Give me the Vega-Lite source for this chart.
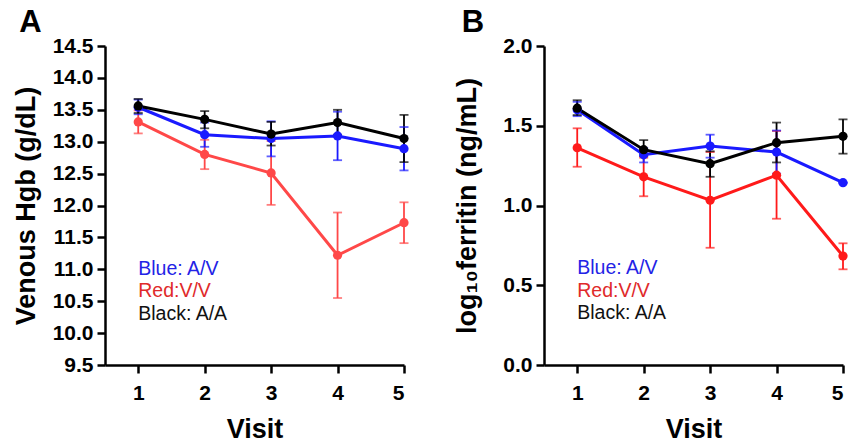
{
  "$schema": "https://vega.github.io/schema/vega-lite/v6.json",
  "background": "white",
  "padding": {"left": 12, "top": 7, "right": 2, "bottom": 2},
  "spacing": 43,
  "datasets": {
    "hgb": [
      {"group": "V/V", "visit": 1, "mean": 13.31, "lo": 13.13, "hi": 13.49},
      {"group": "V/V", "visit": 2, "mean": 12.80, "lo": 12.57, "hi": 13.03},
      {"group": "V/V", "visit": 3, "mean": 12.51, "lo": 12.01, "hi": 13.01},
      {"group": "V/V", "visit": 4, "mean": 11.22, "lo": 10.55, "hi": 11.89},
      {"group": "V/V", "visit": 5, "mean": 11.73, "lo": 11.41, "hi": 12.05},
      {"group": "A/V", "visit": 1, "mean": 13.54, "lo": 13.43, "hi": 13.66},
      {"group": "A/V", "visit": 2, "mean": 13.11, "lo": 12.92, "hi": 13.30},
      {"group": "A/V", "visit": 3, "mean": 13.05, "lo": 12.77, "hi": 13.32},
      {"group": "A/V", "visit": 4, "mean": 13.09, "lo": 12.71, "hi": 13.47},
      {"group": "A/V", "visit": 5, "mean": 12.89, "lo": 12.55, "hi": 13.23},
      {"group": "A/A", "visit": 1, "mean": 13.56, "lo": 13.45, "hi": 13.67},
      {"group": "A/A", "visit": 2, "mean": 13.35, "lo": 13.21, "hi": 13.48},
      {"group": "A/A", "visit": 3, "mean": 13.12, "lo": 12.94, "hi": 13.31},
      {"group": "A/A", "visit": 4, "mean": 13.30, "lo": 13.11, "hi": 13.50},
      {"group": "A/A", "visit": 5, "mean": 13.05, "lo": 12.68, "hi": 13.42}
    ],
    "ferritin": [
      {"group": "V/V", "visit": 1, "mean": 1.362, "lo": 1.243, "hi": 1.484},
      {"group": "V/V", "visit": 2, "mean": 1.18, "lo": 1.058, "hi": 1.30},
      {"group": "V/V", "visit": 3, "mean": 1.033, "lo": 0.735, "hi": 1.335},
      {"group": "V/V", "visit": 4, "mean": 1.19, "lo": 0.917, "hi": 1.467},
      {"group": "V/V", "visit": 5, "mean": 0.683, "lo": 0.60, "hi": 0.763},
      {"group": "A/V", "visit": 1, "mean": 1.60, "lo": 1.56, "hi": 1.65},
      {"group": "A/V", "visit": 2, "mean": 1.318, "lo": 1.27, "hi": 1.36},
      {"group": "A/V", "visit": 3, "mean": 1.373, "lo": 1.30, "hi": 1.444},
      {"group": "A/V", "visit": 4, "mean": 1.335, "lo": 1.20, "hi": 1.47},
      {"group": "A/V", "visit": 5, "mean": 1.143, "lo": 1.143, "hi": 1.143},
      {"group": "A/A", "visit": 1, "mean": 1.61, "lo": 1.567, "hi": 1.66},
      {"group": "A/A", "visit": 2, "mean": 1.35, "lo": 1.31, "hi": 1.41},
      {"group": "A/A", "visit": 3, "mean": 1.262, "lo": 1.18, "hi": 1.34},
      {"group": "A/A", "visit": 4, "mean": 1.394, "lo": 1.27, "hi": 1.52},
      {"group": "A/A", "visit": 5, "mean": 1.434, "lo": 1.325, "hi": 1.54}
    ],
    "legend": [
      {"key": "A/V", "label": "Blue: A/V"},
      {"key": "V/V", "label": "Red:V/V"},
      {"key": "A/A", "label": "Black: A/A"}
    ]
  },
  "config": {
    "font": "Liberation Sans",
    "view": {"stroke": null},
    "axis": {
      "grid": false,
      "domainColor": "black",
      "domainWidth": 2.5,
      "tickColor": "black",
      "tickWidth": 2.5,
      "tickSize": 8,
      "labelOverlap": false,
      "labelFont": "Liberation Sans",
      "labelFontWeight": "bold",
      "labelFontSize": 21,
      "labelColor": "black",
      "titleFont": "Liberation Sans",
      "titleFontWeight": "bold",
      "titleFontSize": 27,
      "titleColor": "black"
    },
    "title": {"font": "Liberation Sans", "fontWeight": "bold", "fontSize": 31, "color": "black", "baseline": "alphabetic"}
  },
  "resolve": {"scale": {"color": "independent", "y": "independent"}},
  "hconcat": [
    {
      "width": 299,
      "height": 319,
      "title": {"text": "A", "anchor": "start", "frame": "bounds", "dx": 7, "offset": -4},
      "layer": [
        {"data": {"name": "hgb"},
         "encoding": {
           "x": {"field": "visit", "type": "quantitative",
                 "scale": {"domain": [0.5, 5], "nice": false, "zero": false},
                 "axis": {"values": [1, 2, 3, 4, 5], "tickCount": 5, "format": "d", "title": "Visit", "labelPadding": 9, "titlePadding": 13}},
           "color": {"field": "group", "type": "nominal",
                  "scale": {"domain": ["A/V", "V/V", "A/A"], "range": ["#1a1aff", "#ff4848", "#000000"]},
                  "legend": null}},
         "layer": [
          {"mark": {"type": "rule", "strokeWidth": 1.8},
           "encoding": {"y": {"field": "lo", "type": "quantitative",
                              "scale": {"domain": [9.5, 14.5], "nice": false, "zero": false},
                              "axis": {"values": [9.5, 10, 10.5, 11, 11.5, 12, 12.5, 13, 13.5, 14, 14.5], "tickCount": 11, "format": ".1f", "title": "Venous Hgb (g/dL)", "labelPadding": 4, "titlePadding": 12}},
                        "y2": {"field": "hi"}}},
          {"mark": {"type": "tick", "orient": "horizontal", "size": 9, "thickness": 1.8},
           "encoding": {"y": {"field": "lo", "type": "quantitative"}}},
          {"mark": {"type": "tick", "orient": "horizontal", "size": 9, "thickness": 1.8},
           "encoding": {"y": {"field": "hi", "type": "quantitative"}}},
          {"mark": {"type": "line", "strokeWidth": 3},
           "encoding": {"y": {"field": "mean", "type": "quantitative"}}},
          {"mark": {"type": "point", "filled": true, "opacity": 1, "size": 85},
           "encoding": {"y": {"field": "mean", "type": "quantitative"}}}
         ]
        },
        {"data": {"name": "legend"},
         "transform": [{"filter": "datum.key == 'A/V'"}],
         "mark": {"type": "text", "align": "left", "baseline": "middle", "fontSize": 19.5, "fill": "#2323e6"},
         "encoding": {"x": {"datum": 1, "type": "quantitative"}, "y": {"datum": 11, "type": "quantitative"}, "text": {"field": "label", "type": "nominal"}}},
        {"data": {"name": "legend"},
         "transform": [{"filter": "datum.key == 'V/V'"}],
         "mark": {"type": "text", "align": "left", "baseline": "middle", "fontSize": 19.5, "fill": "#e02a2a"},
         "encoding": {"x": {"datum": 1, "type": "quantitative"}, "y": {"datum": 10.66, "type": "quantitative"}, "text": {"field": "label", "type": "nominal"}}},
        {"data": {"name": "legend"},
         "transform": [{"filter": "datum.key == 'A/A'"}],
         "mark": {"type": "text", "align": "left", "baseline": "middle", "fontSize": 19.5, "fill": "#111111"},
         "encoding": {"x": {"datum": 1, "type": "quantitative"}, "y": {"datum": 10.3, "type": "quantitative"}, "text": {"field": "label", "type": "nominal"}}}
      ]
    },
    {
      "width": 299,
      "height": 319,
      "title": {"text": "B", "anchor": "start", "frame": "bounds", "dx": 8, "offset": -4},
      "layer": [
        {"data": {"name": "ferritin"},
         "encoding": {
           "x": {"field": "visit", "type": "quantitative",
                 "scale": {"domain": [0.5, 5], "nice": false, "zero": false},
                 "axis": {"values": [1, 2, 3, 4, 5], "tickCount": 5, "format": "d", "title": "Visit", "labelPadding": 9, "titlePadding": 13}},
           "color": {"field": "group", "type": "nominal",
                  "scale": {"domain": ["A/V", "V/V", "A/A"], "range": ["#1a1aff", "#ff1a1a", "#000000"]},
                  "legend": null}},
         "layer": [
          {"mark": {"type": "rule", "strokeWidth": 1.8},
           "encoding": {"y": {"field": "lo", "type": "quantitative",
                              "scale": {"domain": [0, 2], "nice": false, "zero": false},
                              "axis": {"values": [0, 0.5, 1, 1.5, 2], "tickCount": 5, "format": ".1f", "title": "log₁₀ferritin (ng/mL)", "labelPadding": 4, "titlePadding": 21}},
                        "y2": {"field": "hi"}}},
          {"mark": {"type": "tick", "orient": "horizontal", "size": 9, "thickness": 1.8},
           "encoding": {"y": {"field": "lo", "type": "quantitative"}}},
          {"mark": {"type": "tick", "orient": "horizontal", "size": 9, "thickness": 1.8},
           "encoding": {"y": {"field": "hi", "type": "quantitative"}}},
          {"mark": {"type": "line", "strokeWidth": 3},
           "encoding": {"y": {"field": "mean", "type": "quantitative"}}},
          {"mark": {"type": "point", "filled": true, "opacity": 1, "size": 85},
           "encoding": {"y": {"field": "mean", "type": "quantitative"}}}
         ]
        },
        {"data": {"name": "legend"},
         "transform": [{"filter": "datum.key == 'A/V'"}],
         "mark": {"type": "text", "align": "left", "baseline": "middle", "fontSize": 19.5, "fill": "#2323e6"},
         "encoding": {"x": {"datum": 1, "type": "quantitative"}, "y": {"datum": 0.611, "type": "quantitative"}, "text": {"field": "label", "type": "nominal"}}},
        {"data": {"name": "legend"},
         "transform": [{"filter": "datum.key == 'V/V'"}],
         "mark": {"type": "text", "align": "left", "baseline": "middle", "fontSize": 19.5, "fill": "#e02a2a"},
         "encoding": {"x": {"datum": 1, "type": "quantitative"}, "y": {"datum": 0.467, "type": "quantitative"}, "text": {"field": "label", "type": "nominal"}}},
        {"data": {"name": "legend"},
         "transform": [{"filter": "datum.key == 'A/A'"}],
         "mark": {"type": "text", "align": "left", "baseline": "middle", "fontSize": 19.5, "fill": "#111111"},
         "encoding": {"x": {"datum": 1, "type": "quantitative"}, "y": {"datum": 0.329, "type": "quantitative"}, "text": {"field": "label", "type": "nominal"}}}
      ]
    }
  ]
}
